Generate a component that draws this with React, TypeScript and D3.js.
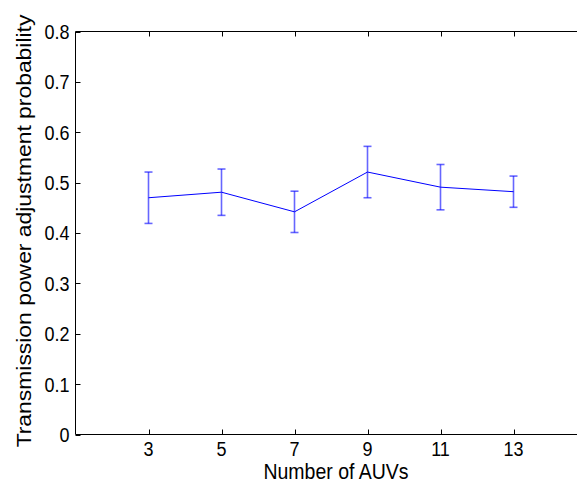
import React from "react";
import * as d3 from "d3";

const auvCounts = [3, 5, 7, 9, 11, 13];
const meanProb = [0.47, 0.481, 0.442, 0.521, 0.491, 0.482];
const errProb = [0.051, 0.046, 0.041, 0.051, 0.045, 0.031];
const yTicks = [0, 0.1, 0.2, 0.3, 0.4, 0.5, 0.6, 0.7, 0.8];
const xTicks = [3, 5, 7, 9, 11, 13];

const W = 577;
const H = 484;
const left = 75.5;
const right = 586.5;
const top = 31.5;
const bottom = 434.5;
const stretch = 1.15;

export default function App() {
  const x = d3.scaleLinear().domain([1, 15]).range([left, right]);
  const y = d3.scaleLinear().domain([0, 0.8]).range([bottom, top]);
  const line = d3
    .line<number>()
    .x((_, i) => x(auvCounts[i]))
    .y((d) => y(d));
  const font = "'Liberation Sans', Arial, Helvetica, sans-serif";
  const cap = 4;
  return (
    <div style={{ position: "fixed", left: 0, top: 0 }}>
      <svg width={W} height={H} style={{ display: "block", background: "#fff" }}>
        <rect x={0} y={0} width={W} height={H} fill="#fff" />
        {/* axis box */}
        <line x1={left} x2={right} y1={top} y2={top} stroke="#000" strokeWidth={1} />
        <line x1={left} x2={right} y1={bottom} y2={bottom} stroke="#000" strokeWidth={1} />
        <line x1={left} x2={left} y1={top} y2={bottom} stroke="#000" strokeWidth={1} />
        <line x1={right} x2={right} y1={top} y2={bottom} stroke="#000" strokeWidth={1} />
        {/* y ticks */}
        {yTicks.map((t) => (
          <g key={"y" + t}>
            <line x1={left} x2={left + 5} y1={Math.round(y(t)) + 0.5} y2={Math.round(y(t)) + 0.5} stroke="#000" />
            <line x1={right} x2={right - 5} y1={Math.round(y(t)) + 0.5} y2={Math.round(y(t)) + 0.5} stroke="#000" />
            <text
              transform={`translate(${left - 6},${y(t)}) scale(1,${stretch})`}
              textAnchor="end"
              dominantBaseline="central"
              fontFamily={font}
              fontSize={18}
              fill="#000"
            >
              {t === 0 ? "0" : t.toFixed(1)}
            </text>
          </g>
        ))}
        {/* x ticks */}
        {xTicks.map((t) => (
          <g key={"x" + t}>
            <line x1={Math.round(x(t)) + 0.5} x2={Math.round(x(t)) + 0.5} y1={bottom} y2={bottom - 5} stroke="#000" />
            <line x1={Math.round(x(t)) + 0.5} x2={Math.round(x(t)) + 0.5} y1={top} y2={top + 5} stroke="#000" />
            <text
              transform={`translate(${x(t)},456) scale(1,${stretch})`}
              textAnchor="middle"
              fontFamily={font}
              fontSize={18}
              fill="#000"
            >
              {t}
            </text>
          </g>
        ))}
        {/* error bars */}
        {auvCounts.map((c, i) => {
          const cx = x(c);
          const y1 = y(meanProb[i] + errProb[i]);
          const y0 = y(meanProb[i] - errProb[i]);
          return (
            <g key={"e" + c} stroke="#0000ff" strokeOpacity={0.6} strokeWidth={1.6}>
              <line x1={cx} x2={cx} y1={y1} y2={y0} />
              <line x1={cx - cap} x2={cx + cap} y1={y1} y2={y1} />
              <line x1={cx - cap} x2={cx + cap} y1={y0} y2={y0} />
            </g>
          );
        })}
        <path d={line(meanProb) || ""} fill="none" stroke="#0000ff" strokeWidth={1} />
        {/* labels */}
        <text
          transform={`translate(336,479) scale(1,${stretch})`}
          textAnchor="middle"
          fontFamily={font}
          fontSize={19.5}
          fill="#000"
        >
          Number of AUVs
        </text>
        <text
          transform={`translate(31,231) scale(1,${stretch}) rotate(-90)`}
          textAnchor="middle"
          fontFamily={font}
          fontSize={19.9}
          fill="#000"
        >
          Transmission power adjustment probability
        </text>
      </svg>
    </div>
  );
}
